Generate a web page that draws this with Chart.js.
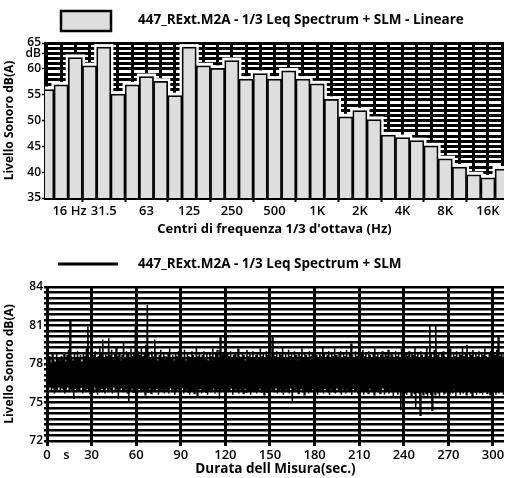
<!DOCTYPE html>
<html>
<head>
<meta charset="utf-8">
<script src="https://cdn.jsdelivr.net/npm/chart.js@4.4.0/dist/chart.umd.min.js"></script>
<style>
  html, body { margin: 0; padding: 0; background: #fff; }
  canvas { position: absolute; left: 0; }
  #spettro { top: 0; }
  #tempo { top: 240px; }
</style>
</head>
<body>
<canvas id="spettro" width="506" height="240"></canvas>
<canvas id="tempo" width="506" height="238"></canvas>
<script>
// Bande 1/3 d'ottava (12.5 Hz - 20 kHz) e livelli Leq
const bande = ['12.5','16','20','25','31.5','40','50','63','80','100','125','160','200','250','315','400','500','630','800','1K','1.25K','1.6K','2K','2.5K','3.15K','4K','5K','6.3K','8K','10K','12.5K','16K','20K'];
const leq = [56.0,56.9,62.2,60.6,64.2,55.1,56.9,58.5,57.6,54.8,64.2,60.6,60.1,61.6,58.0,59.1,58.0,59.6,58.0,57.1,54.1,50.7,51.9,50.2,47.2,46.7,46.1,45.1,42.6,41.0,39.5,38.9,40.6];

// Etichette asse X (indice banda -> testo)
const tickBande = [1,4,7,10,13,16,19,22,25,28,31];
const tickTesti = ['     16 Hz','31.5','63','125','250','500','1K','2K','4K','8K','16K'];

// Etichette asse Y spettro
const yTickValori = [65,63,60,55,50,45,40,35];
const yTickTesti = ['65','dB','60','55','50','45','40','35'];

// Andamento temporale SLM: minimi e massimi letti per ogni secondo (0..307 s)
const minimi = [
76.0,75.8,76.2,75.9,76.1,75.7,76.0,75.9,76.3,75.8,
76.1,75.9,75.7,76.0,76.2,75.8,76.0,75.9,75.3,76.1,
75.8,76.0,75.9,76.2,75.7,76.0,75.8,76.1,75.9,75.7,
76.0,75.8,76.2,75.9,75.6,76.0,75.8,76.1,75.9,75.7,
76.1,75.8,76.0,75.9,75.7,76.2,75.8,76.0,75.3,75.9,
76.1,75.8,75.9,76.0,75.7,75.0,75.9,76.1,75.8,76.0,
75.9,75.7,76.1,75.8,76.0,75.9,75.6,76.0,75.8,76.1,
75.7,75.9,76.0,75.8,76.1,75.6,75.9,76.0,75.8,75.7,
76.0,75.9,75.7,76.1,75.8,76.0,75.6,75.9,76.0,75.8,
75.9,76.1,75.7,75.9,76.0,75.8,75.6,76.0,75.9,75.7,
76.0,75.4,75.9,76.1,75.7,75.9,76.0,75.8,75.6,76.0,
75.8,75.9,76.1,75.7,75.9,76.0,75.3,75.8,76.0,75.9,
75.7,76.0,75.8,75.9,76.1,75.6,75.9,76.0,75.8,75.7,
76.0,75.9,75.7,76.1,75.8,75.9,76.0,75.6,75.9,75.8,
76.0,75.7,75.9,76.1,75.8,75.9,75.6,76.0,75.8,75.9,
75.7,76.0,75.9,75.8,76.1,75.7,75.9,76.0,75.8,75.6,
75.9,76.0,75.8,75.7,76.1,75.0,75.9,75.8,76.0,75.7,
75.9,76.1,75.8,75.6,75.9,76.0,75.7,75.9,75.8,76.1,
75.8,75.9,75.6,76.0,75.8,75.9,75.7,76.1,75.9,75.8,
75.6,76.0,75.9,75.8,75.7,76.1,75.9,75.8,75.6,76.0,
75.9,75.7,76.0,75.8,75.9,75.6,76.1,75.8,75.9,75.7,
76.0,75.8,75.9,75.6,76.0,75.8,75.7,76.1,75.9,75.8,
75.6,75.9,76.0,75.8,75.7,75.9,76.1,75.6,75.8,75.9,
75.7,76.0,75.8,75.5,75.9,75.8,75.6,75.9,74.4,75.8,
75.9,75.7,75.6,75.9,75.8,75.5,75.9,75.7,74.6,75.8,
75.7,74.0,75.8,75.6,75.9,75.7,75.5,75.8,75.6,74.4,
75.8,75.6,75.9,75.7,75.5,75.8,75.9,75.6,75.7,75.8,
75.9,75.6,75.8,75.7,76.0,75.5,75.8,75.9,75.6,75.8,
75.7,75.9,75.6,75.8,76.0,75.7,75.5,75.9,75.8,75.6,
75.9,75.7,75.8,75.6,76.0,75.8,75.7,75.9,75.6,75.8,
75.7,75.9,75.6,75.8,75.7,75.9,75.8,75.6];
const massimi = [
78.3,78.6,78.1,78.8,78.4,78.2,78.9,78.5,78.3,78.6,
78.4,78.9,78.2,78.7,79.1,81.4,78.6,78.3,78.8,78.5,
79.0,78.4,78.7,78.2,78.9,78.6,79.2,80.9,78.5,78.8,
78.3,78.7,79.0,78.4,78.6,79.3,78.8,79.9,78.5,78.9,
78.6,80.0,78.7,79.1,78.4,78.8,79.4,78.6,78.9,78.3,
78.7,79.7,78.5,79.0,78.8,78.4,79.2,78.6,78.9,81.2,
78.5,79.0,78.7,79.3,78.6,78.9,79.5,82.6,78.8,78.4,
79.0,78.6,79.9,78.8,78.3,78.7,79.1,78.5,78.9,78.6,
78.4,78.8,79.2,78.5,78.7,78.3,78.9,78.6,79.0,78.4,
78.7,78.5,79.1,78.3,78.8,78.6,78.4,79.0,78.7,78.5,
79.3,78.6,78.9,78.4,78.7,79.0,78.5,78.8,78.3,78.9,
78.6,79.2,78.5,78.8,79.1,78.4,80.2,78.7,78.9,78.5,
78.3,78.8,78.6,79.0,78.4,78.7,78.9,78.5,79.2,78.6,
78.4,78.9,78.7,78.3,79.1,78.6,78.8,78.5,79.0,78.4,
78.7,78.9,78.5,79.2,78.6,78.8,78.4,79.0,78.7,79.4,
78.5,80.1,78.8,78.6,79.0,78.4,78.9,78.7,79.3,78.5,
78.8,78.4,79.1,78.6,78.9,78.5,79.0,78.7,78.3,78.8,
78.6,79.2,78.4,78.9,78.7,78.5,79.0,78.6,78.8,78.4,
79.1,78.7,78.5,78.9,78.6,79.3,78.8,78.4,78.7,79.0,
78.5,78.9,78.6,79.2,78.7,78.4,78.8,79.0,78.5,78.9,
78.6,79.1,78.4,78.8,79.6,78.7,78.5,79.0,78.6,78.9,
78.4,78.8,79.1,78.6,78.9,78.5,79.0,78.7,78.4,78.8,
79.2,78.6,78.9,78.5,78.7,79.0,78.4,78.8,78.6,79.1,
78.5,78.9,78.7,78.4,79.0,78.6,78.8,78.5,79.2,78.7,
78.4,78.8,78.6,79.0,78.5,78.9,78.7,79.3,78.6,78.8,
78.5,79.0,78.7,78.4,78.9,79.4,78.6,81.0,78.8,78.5,
79.1,81.0,78.7,78.9,78.5,78.8,79.0,78.6,78.4,78.9,
78.7,79.2,78.5,78.8,78.6,79.0,78.4,78.9,78.7,79.3,
78.6,78.8,79.5,78.5,78.9,78.7,79.1,78.4,78.8,78.6,
79.0,78.5,78.9,78.7,79.2,78.6,78.4,78.8,79.0,78.5,
78.9,78.7,79.1,80.2,78.6,78.8,78.5,78.9];

// Etichette asse X tempo
const tickSecondi = [0,13,30,60,90,120,150,180,210,240,270,300];
const tickSecondiTesti = ['0','s','30','60','90','120','150','180','210','240','270','300'];
// Etichette asse Y tempo
const yTempoTesti = ['84','81','78','75','72'];

const FONT = '"Open Sans", sans-serif';
Chart.defaults.font.family = FONT;
Chart.defaults.color = '#000';

// Alone bianco attorno alle barre (visibile sopra la griglia nera)
const aloneBarre = {
    id: 'aloneBarre',
    beforeDatasetsDraw(chart) {
        const ctx = chart.ctx;
        const area = chart.chartArea;
        const meta = chart.getDatasetMeta(0);
        ctx.save();
        ctx.beginPath();
        ctx.rect(area.left, area.top, area.right - area.left, area.bottom - area.top);
        ctx.clip();
        ctx.fillStyle = '#fff';
        meta.data.forEach(bar => {
            const p = bar.getProps(['x', 'y', 'base', 'width'], true);
            ctx.fillRect(p.x - p.width / 2 - 2.5, p.y - 3, p.width + 5, p.base - p.y + 3);
        });
        ctx.restore();
    }
};

// Legenda disegnata a mano (box + testo)
const legendaSpettro = {
    id: 'legendaSpettro',
    afterDraw(chart) {
        const ctx = chart.ctx;
        ctx.save();
        ctx.fillStyle = '#dedede';
        ctx.strokeStyle = '#000';
        ctx.lineWidth = 2.5;
        ctx.fillRect(61, 11, 50, 20);
        ctx.strokeRect(61, 11, 50, 20);
        ctx.fillStyle = '#000';
        ctx.font = 'bold 13.5px ' + FONT;
        ctx.textBaseline = 'middle';
        ctx.fillText(chart.data.datasets[0].label, 138, 20);
        ctx.restore();
    }
};

const legendaTempo = {
    id: 'legendaTempo',
    afterDraw(chart) {
        const ctx = chart.ctx;
        ctx.save();
        ctx.strokeStyle = '#000';
        ctx.lineWidth = 3;
        ctx.beginPath();
        ctx.moveTo(58, 24);
        ctx.lineTo(118, 24);
        ctx.stroke();
        ctx.fillStyle = '#000';
        ctx.font = 'bold 13.5px ' + FONT;
        ctx.textBaseline = 'middle';
        ctx.fillText(chart.data.datasets[0].label, 138, 24);
        ctx.restore();
    }
};

// ---------- Grafico spettro ----------
new Chart(document.getElementById('spettro'), {
    type: 'bar',
    data: {
        datasets: [{
            label: '447_RExt.M2A - 1/3 Leq Spectrum + SLM - Lineare',
            data: leq.map((v, i) => ({ x: i, y: v })),
            backgroundColor: '#dedede',
            borderColor: '#000',
            borderWidth: 1.75,
            barPercentage: 1,
            categoryPercentage: 1,
            grouped: false
        }]
    },
    options: {
        responsive: false,
        animation: false,
        layout: { padding: { top: 43, right: 2, left: 0, bottom: 0 } },
        plugins: { legend: { display: false }, tooltip: { enabled: false } },
        scales: {
            x: {
                type: 'linear',
                offset: false,
                min: -0.13,
                max: 32.13,
                weight: 1,
                afterBuildTicks: scale => {
                    scale.ticks = tickBande.map(v => ({ value: v }));
                },
                afterFit: scale => { scale.height = 42; },
                ticks: {
                    autoSkip: false,
                    maxRotation: 0,
                    padding: 1,
                    font: { size: 13, weight: '600' },
                    callback: v => tickTesti[tickBande.indexOf(v)]
                },
                grid: {
                    drawOnChartArea: false,
                    color: '#000',
                    tickWidth: 2,
                    tickLength: 4
                },
                border: { display: false },
                title: {
                    display: true,
                    text: "Centri di frequenza 1/3 d'ottava (Hz)",
                    font: { size: 13, weight: 'bold' },
                    padding: { top: 0, bottom: 3 }
                }
            },
            // griglia verticale ai limiti di banda
            xg: {
                type: 'linear',
                position: 'bottom',
                offset: false,
                min: -0.13,
                max: 32.13,
                weight: 0,
                afterBuildTicks: scale => {
                    scale.ticks = bande.slice(1).map((b, k) => ({ value: k + 0.5 }));
                },
                afterFit: scale => { scale.height = 0; },
                ticks: { display: false },
                grid: { color: '#000', lineWidth: 3, drawTicks: false },
                border: { display: false }
            },
            y: {
                min: 35,
                max: 65,
                afterBuildTicks: scale => {
                    const t = [];
                    for (let v = 35; v <= 65; v++) t.push({ value: v });
                    scale.ticks = t;
                },
                afterFit: scale => { scale.width = 45; },
                ticks: {
                    autoSkip: false,
                    padding: 1,
                    font: { size: 12, weight: '600' },
                    callback: v => {
                        const i = yTickValori.indexOf(v);
                        return i >= 0 ? yTickTesti[i] : '';
                    }
                },
                grid: {
                    color: '#000',
                    lineWidth: 3,
                    tickColor: c => (c.tick && yTickValori.indexOf(c.tick.value) >= 0) ? '#000' : 'rgba(0,0,0,0)',
                    tickWidth: 1.5,
                    tickLength: 3
                },
                border: { display: true, color: '#000', width: 3 },
                title: {
                    display: true,
                    text: 'Livello Sonoro dB(A)',
                    font: { size: 12, weight: 'bold' },
                    padding: { top: 2, bottom: 0 }
                }
            }
        }
    },
    plugins: [aloneBarre, legendaSpettro]
});

// ---------- Grafico andamento temporale ----------
const puntiTempo = [];
minimi.forEach((v, i) => {
    puntiTempo.push({ x: i, y: v });
    puntiTempo.push({ x: i + 0.5, y: massimi[i] });
});

new Chart(document.getElementById('tempo'), {
    type: 'line',
    data: {
        datasets: [{
            label: '447_RExt.M2A - 1/3 Leq Spectrum + SLM',
            data: puntiTempo,
            borderColor: '#000',
            borderWidth: 1.5,
            pointRadius: 0,
            tension: 0,
            fill: false
        }]
    },
    options: {
        responsive: false,
        animation: false,
        layout: { padding: { top: 47, right: 2, left: 0, bottom: 0 } },
        plugins: { legend: { display: false }, tooltip: { enabled: false } },
        scales: {
            x: {
                type: 'linear',
                min: 0,
                max: 307.4,
                afterBuildTicks: scale => {
                    scale.ticks = tickSecondi.map(v => ({ value: v }));
                },
                afterFit: scale => { scale.height = 37; },
                ticks: {
                    autoSkip: false,
                    maxRotation: 0,
                    padding: 1,
                    font: { size: 13, weight: '600' },
                    callback: v => tickSecondiTesti[tickSecondi.indexOf(v)]
                },
                grid: {
                    color: c => (c.tick && c.tick.value === 13) ? 'rgba(0,0,0,0)' : '#000',
                    lineWidth: 3,
                    tickLength: 5
                },
                border: { display: false },
                title: {
                    display: true,
                    text: 'Durata dell Misura(sec.)',
                    font: { size: 13.5, weight: 'bold' },
                    padding: { top: 0, bottom: 1 }
                }
            },
            y: {
                min: 72,
                max: 84,
                afterBuildTicks: scale => {
                    const t = [];
                    for (let k = 0; k <= 28; k++) t.push({ value: 72 + k * 3 / 7 });
                    scale.ticks = t;
                },
                afterFit: scale => { scale.width = 47; },
                ticks: {
                    autoSkip: false,
                    padding: 1,
                    font: { size: 12, weight: '600' },
                    callback: (v, i) => (i % 7 === 0) ? yTempoTesti[4 - i / 7] : ''
                },
                grid: {
                    color: '#000',
                    lineWidth: 2.6,
                    tickLength: 3
                },
                border: { display: true, color: '#000', width: 3 },
                title: {
                    display: true,
                    text: 'Livello Sonoro dB(A)',
                    font: { size: 12, weight: 'bold' },
                    padding: { top: 2, bottom: 0 }
                }
            }
        }
    },
    plugins: [legendaTempo]
});
</script>
</body>
</html>
